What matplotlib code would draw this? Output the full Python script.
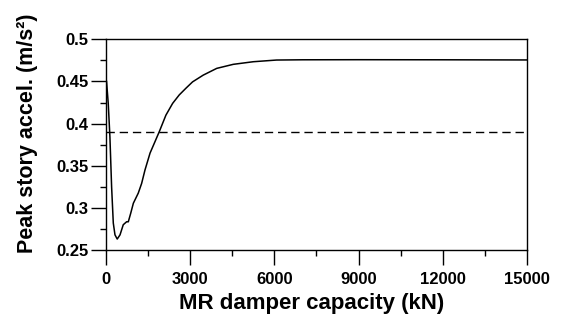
import numpy as np
import matplotlib.pyplot as plt
from matplotlib.ticker import MultipleLocator

plt.rcParams['font.family'] = ['Liberation Sans', 'DejaVu Sans']
plt.rcParams['font.weight'] = 'bold'

# values
capacity = [20, 80, 140, 200, 260, 320, 400, 500, 615, 735, 795, 880, 975,
            1150, 1270, 1390, 1570, 1745, 1900, 2135, 2375, 2610, 2850,
            3085, 3465, 3945, 4535, 5250, 6080, 7000, 9000, 12000, 15000]
peak_accel = [0.450, 0.424, 0.384, 0.325, 0.282, 0.268, 0.263, 0.268,
              0.280, 0.2835, 0.2835, 0.2935, 0.3055, 0.3175, 0.329, 0.345,
              0.365, 0.3785, 0.3905, 0.410, 0.424, 0.434, 0.442, 0.4495,
              0.4575, 0.4655, 0.4703, 0.4734, 0.4754, 0.4757, 0.4758,
              0.4757, 0.4755]
uncontrolled = 0.39

fig = plt.figure(figsize=(5.65, 3.18), dpi=100)
ax = fig.add_axes([0.1876, 0.2138, 0.745, 0.6626])

ax.plot(capacity, peak_accel, color='black', lw=1.1)
ax.axhline(uncontrolled, color='black', lw=1.0, dashes=(6, 3.5))

ax.set_xlim(0, 15000)
ax.set_ylim(0.25, 0.5)
ax.xaxis.set_major_locator(MultipleLocator(3000))
ax.xaxis.set_minor_locator(MultipleLocator(1500))
ax.yaxis.set_major_locator(MultipleLocator(0.05))
ax.yaxis.set_minor_locator(MultipleLocator(0.025))
ax.set_yticks([0.25, 0.3, 0.35, 0.4, 0.45, 0.5])
ax.set_yticklabels(['0.25', '0.3', '0.35', '0.4', '0.45', '0.5'])

ax.tick_params(which='major', direction='out', length=10.5, width=1.0,
               labelsize=12)
ax.tick_params(which='minor', direction='out', length=4.5, width=1.0)
ax.tick_params(axis='x', which='major', pad=5.5)
ax.tick_params(axis='y', which='major', pad=2)
for s in ax.spines.values():
    s.set_linewidth(1.0)

ax.set_xlabel('MR damper capacity (kN)', fontsize=16, fontweight='bold')
ax.set_ylabel('Peak story accel. (m/s²)', fontsize=15.5, fontweight='bold')
ax.xaxis.set_label_coords(0.489, -0.203)
ax.yaxis.set_label_coords(-0.1625, 0.553)

fig.savefig('out.png', dpi=100)
